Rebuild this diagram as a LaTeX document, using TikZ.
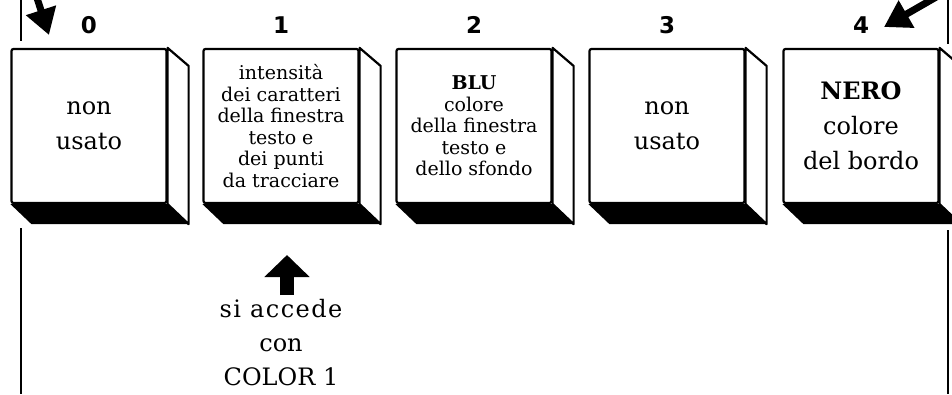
\documentclass[tikz,border=0pt]{standalone}
\usepackage{fontspec}
\setmainfont{DejaVu Serif}
\setsansfont{DejaVu Sans}
\usepackage{tikz}
\usetikzlibrary{
	arrows.meta,
	positioning
}

\tikzset{
	cell/.style={draw, line width=2.2pt, rounded corners=2pt, fill=white,
		minimum width=155pt, minimum height=154pt, inner sep=0pt, align=center},
	bigtxt/.style={font=\fontsize{24}{35}\selectfont},
	smalltxt/.style={font=\fontsize{19}{21.5}\selectfont},
	num/.style={font=\sffamily\bfseries\fontsize{23}{23}\selectfont},
	fatarrow/.style={line width=7pt, -{Triangle[length=26pt,width=30pt]}},
	uparrow/.style={line width=14pt, -{Triangle[length=22pt,width=44pt]}},
	bracket/.style={line width=2pt}
}

\begin{document}
\begin{tikzpicture}[x=1pt, y=-1pt]
		\clip (0,0) rectangle (952,394);
		% the five cells
		\node[cell, bigtxt] (b0) at (89,126) {non\\usato};
		\node[cell, smalltxt] (b1) at (281,126) {intensità\\dei caratteri\\della finestra\\testo e\\dei punti\\da tracciare};
		\node[cell, smalltxt] (b2) at (474,126) {\textbf{BLU}\\colore\\della finestra\\testo e\\dello sfondo};
		\node[cell, bigtxt] (b3) at (667,126) {non\\usato};
		\node[cell, bigtxt] (b4) at (861,126) {\textbf{NERO}\\colore\\del bordo};
		
		% side and bottom faces, numbers
		\foreach \i in {0,...,4} {
			\filldraw[fill=white, line width=2.2pt, line join=round] (b\i.north east) -- ++(21,18)
				-- ([shift={(21,20)}]b\i.south east) -- (b\i.south east) -- cycle;
			\fill (b\i.south west) -- ([shift={(21,20)}]b\i.south west)
				-- ([shift={(21,20)}]b\i.south east) -- (b\i.south east) -- cycle;
			\node[num, above=11pt of b\i] (n\i) {\i};
		}
		
		% brackets
		\coordinate (LT) at (21,0);
		\coordinate (LM) at (21,41);
		\coordinate (LN) at (21,228);
		\coordinate (LB) at (21,394);
		\coordinate (RT) at (948,0);
		\coordinate (RM) at (948,44);
		\coordinate (RN) at (948,230);
		\coordinate (RB) at (948,394);
		\draw[bracket] (LT) -- (LM);
		\draw[bracket] (LN) -- (LB);
		\draw[bracket] (RT) -- (RM);
		\draw[bracket] (RN) -- (RB);
		
		% arrows
		\draw[fatarrow] (37,-2) -- (49,35);
		\draw[fatarrow] (938,-4) -- (884,27);
		
		\node[font=\fontsize{24}{34}\selectfont, align=center, inner sep=0pt, anchor=north] (acc) at (281,299)
			{\addfontfeature{LetterSpace=6}si accede\\con\\COLOR 1};
		\coordinate (accfoot) at (287,295);
		\coordinate (acctip) at (287,255);
		\draw[uparrow] (accfoot) -- (acctip);
	\end{tikzpicture}
\end{document}
